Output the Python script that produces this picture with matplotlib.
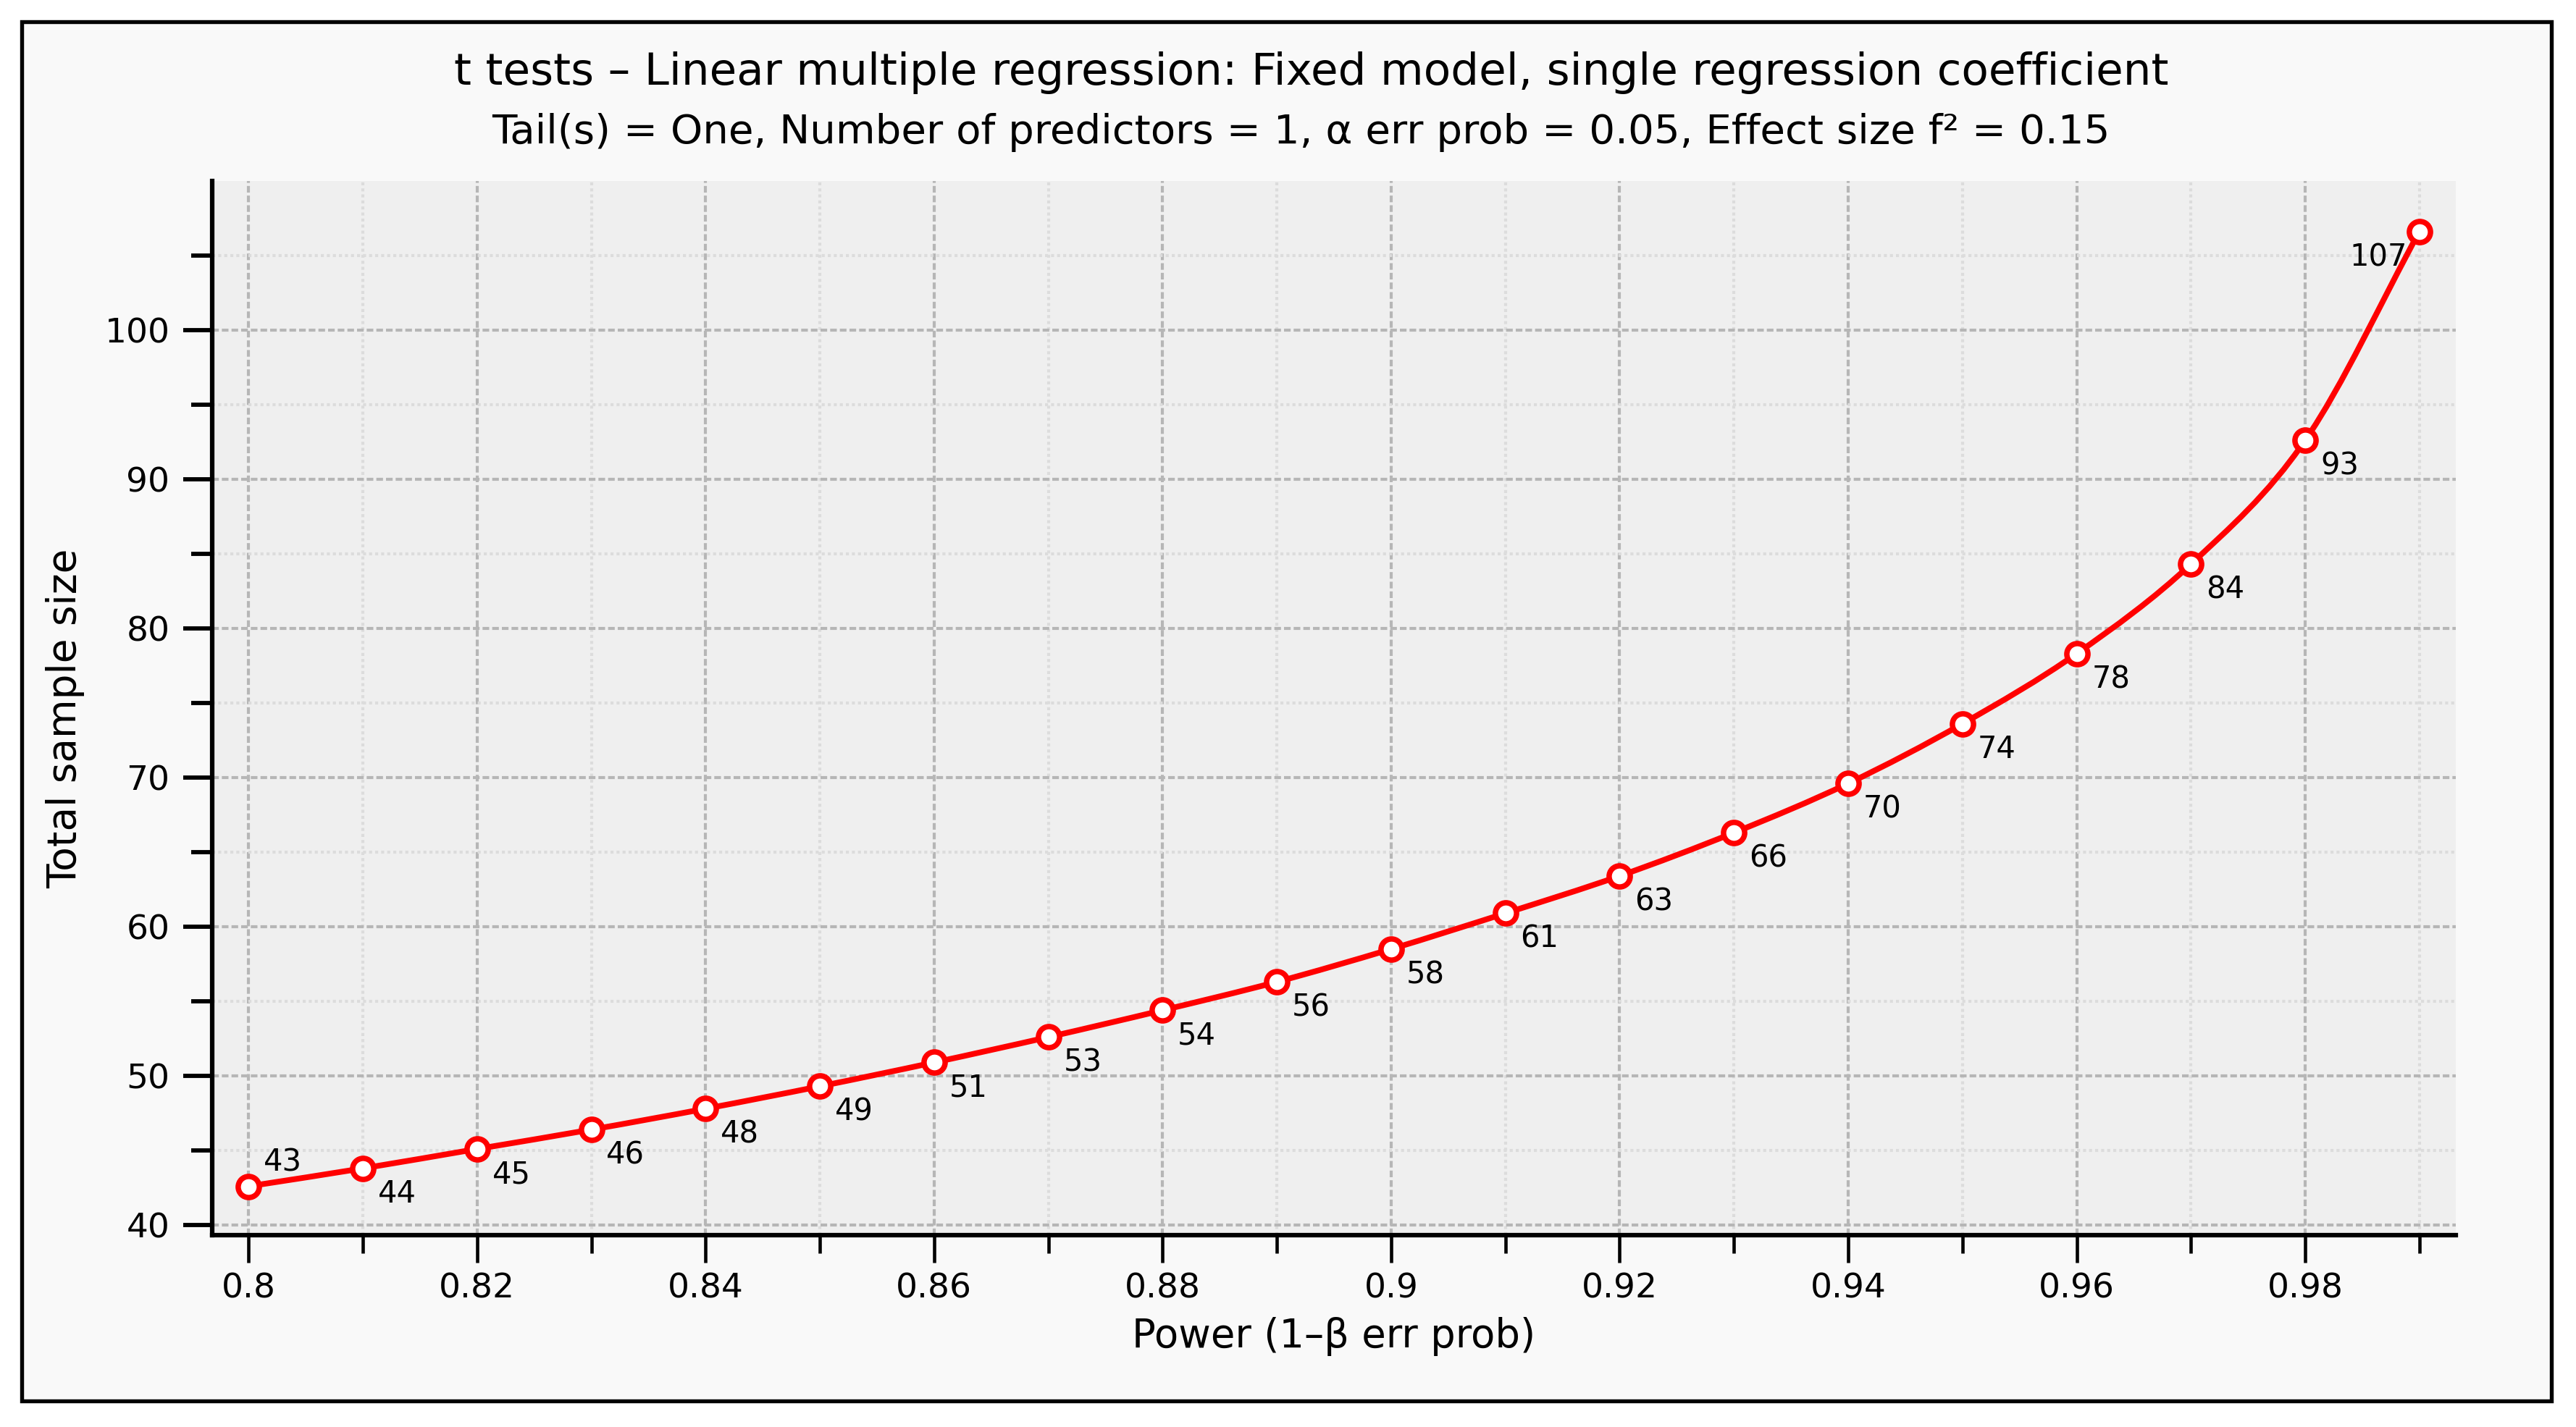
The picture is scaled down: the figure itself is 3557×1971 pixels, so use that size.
import matplotlib
matplotlib.use("Agg")
import matplotlib.pyplot as plt
import numpy as np
from matplotlib.path import Path
from matplotlib.patches import PathPatch, Rectangle
from matplotlib.ticker import FixedLocator, FormatStrFormatter

# power values (x) and total sample size (y)
power = [0.80, 0.81, 0.82, 0.83, 0.84, 0.85, 0.86, 0.87, 0.88, 0.89,
         0.90, 0.91, 0.92, 0.93, 0.94, 0.95, 0.96, 0.97, 0.98, 0.99]
sample_size = [42.6, 43.8, 45.1, 46.4, 47.8, 49.3, 50.9, 52.6, 54.4, 56.3,
               58.5, 60.9, 63.4, 66.3, 69.6, 73.6, 78.3, 84.3, 92.6, 106.6]
point_labels = [43, 44, 45, 46, 48, 49, 51, 53, 54, 56,
                58, 61, 63, 66, 70, 74, 78, 84, 93, 107]

x_major = [0.80, 0.82, 0.84, 0.86, 0.88, 0.90, 0.92, 0.94, 0.96, 0.98]
x_minor = [0.81, 0.83, 0.85, 0.87, 0.89, 0.91, 0.93, 0.95, 0.97, 0.99]
y_major = [40, 50, 60, 70, 80, 90, 100]
y_minor = [45, 55, 65, 75, 85, 95, 105]

title = "t tests – Linear multiple regression: Fixed model, single regression coefficient"
subtitle = "Tail(s) = One, Number of predictors = 1, α err prob = 0.05, Effect size f² = 0.15"

plt.rcParams["font.family"] = ["DejaVu Sans"]

fig = plt.figure(figsize=(11.857, 6.57), dpi=300, facecolor="white")

# light panel with black frame around everything
fig.patches.append(Rectangle((0.0083, 0.0184), 0.982, 0.9666,
                             transform=fig.transFigure, facecolor="#f9f9f9",
                             edgecolor="black", linewidth=1.3, zorder=-10))

ax = fig.add_axes([0.0823, 0.1346, 0.8711, 0.7388])
ax.set_facecolor("#efefef")

ax.set_xlim(0.7968, 0.9932)
ax.set_ylim(39.34, 110.0)

ax.xaxis.set_major_locator(FixedLocator(x_major))
ax.xaxis.set_minor_locator(FixedLocator(x_minor))
ax.yaxis.set_major_locator(FixedLocator(y_major))
ax.yaxis.set_minor_locator(FixedLocator(y_minor))
ax.xaxis.set_major_formatter(FormatStrFormatter("%g"))
ax.yaxis.set_major_formatter(FormatStrFormatter("%g"))

ax.grid(which="major", color="#b6b6b6", linestyle=(0, (2.2, 1)), linewidth=1.0)
ax.grid(which="minor", color="#dcdcdc", linestyle=(0, (1, 1)), linewidth=1.0)
ax.set_axisbelow(True)

for side in ["top", "right"]:
    ax.spines[side].set_visible(False)
for side in ["left", "bottom"]:
    ax.spines[side].set_linewidth(1.5)

ax.tick_params(axis="x", which="major", length=9, width=1.1, pad=3.5, labelsize=11.3)
ax.tick_params(axis="x", which="minor", length=6, width=1.1)
ax.tick_params(axis="y", which="major", length=9.5, width=1.4, pad=4.5, labelsize=11.3)
ax.tick_params(axis="y", which="minor", length=7, width=1.4)

# smooth curve through the points (Catmull-Rom as cubic Bezier segments)
x = np.array(power)
y = np.array(sample_size)
n = len(x)
verts = [(x[0], y[0])]
codes = [Path.MOVETO]
for i in range(n - 1):
    x0, y0 = (x[i - 1], y[i - 1]) if i > 0 else (2 * x[0] - x[1], 2 * y[0] - y[1])
    x3, y3 = (x[i + 2], y[i + 2]) if i + 2 < n else (2 * x[-1] - x[-2], 2 * y[-1] - y[-2])
    c1 = (x[i] + (x[i + 1] - x0) / 6, y[i] + (y[i + 1] - y0) / 6)
    c2 = (x[i + 1] - (x3 - x[i]) / 6, y[i + 1] - (y3 - y[i]) / 6)
    verts += [c1, c2, (x[i + 1], y[i + 1])]
    codes += [Path.CURVE4] * 3
ax.add_patch(PathPatch(Path(verts, codes), facecolor="none",
                       edgecolor="#ff0000", linewidth=1.9, zorder=3))

ax.plot(power, sample_size, linestyle="none", marker="o", markersize=7,
        markerfacecolor="white", markeredgecolor="#ff0000",
        markeredgewidth=1.8, zorder=4)

for i, (px, py, lab) in enumerate(zip(power, sample_size, point_labels)):
    if i == 0:
        off, ha = (5, 8), "left"
    elif i == n - 1:
        off, ha = (-4, -8.5), "right"
    else:
        off, ha = (5, -8.5), "left"
    ax.annotate(str(lab), (px, py), xytext=off, textcoords="offset points",
                ha=ha, va="center", fontsize=10, zorder=5)

ax.set_xlabel("Power (1–β err prob)", fontsize=13.1, labelpad=4)
ax.set_ylabel("Total sample size", fontsize=13.2, labelpad=6.5)
ax.yaxis.label.set_y(0.49)

fig.text(0.509, 0.949, title, ha="center", va="center", fontsize=14.7)
fig.text(0.505, 0.907, subtitle, ha="center", va="center", fontsize=13.5)

fig.savefig("out.png", dpi=300, facecolor=fig.get_facecolor())
